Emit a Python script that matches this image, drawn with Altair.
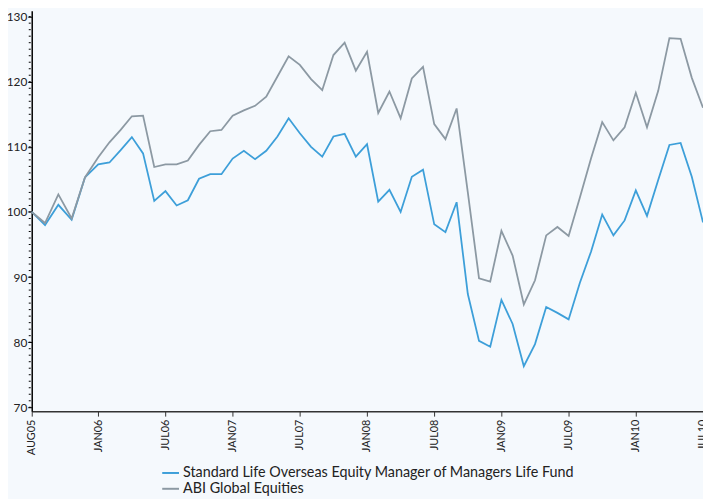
import altair as alt
import pandas as pd

MONTH_INDEX = list(range(60))
STANDARD_LIFE = [100.0, 98.0, 101.1, 98.8, 105.3, 107.3, 107.6, 109.5, 111.5, 109.0,
                 101.7, 103.2, 101.0, 101.8, 105.1, 105.8, 105.8, 108.2, 109.4, 108.1,
                 109.4, 111.6, 114.4, 112.1, 110.0, 108.5, 111.6, 112.0, 108.5, 110.4,
                 101.6, 103.4, 100.0, 105.4, 106.5, 98.1, 96.9, 101.5, 87.4, 80.2,
                 79.3, 86.5, 82.8, 76.3, 79.7, 85.4, 84.5, 83.5, 89.1, 93.9,
                 99.6, 96.4, 98.7, 103.3, 99.4, 104.9, 110.3, 110.6, 105.4, 98.4]
ABI_GLOBAL = [100.0, 98.3, 102.7, 99.0, 105.3, 108.4, 110.7, 112.6, 114.7, 114.8,
              106.9, 107.3, 107.3, 107.9, 110.3, 112.4, 112.6, 114.8, 115.6, 116.3,
              117.7, 120.8, 123.9, 122.6, 120.4, 118.7, 124.1, 126.0, 121.7, 124.6,
              115.2, 118.5, 114.4, 120.5, 122.3, 113.5, 111.2, 115.9, 103.0, 89.8,
              89.3, 97.1, 93.3, 85.8, 89.5, 96.4, 97.7, 96.3, 102.2, 108.2,
              113.8, 111.0, 113.0, 118.3, 113.0, 118.6, 126.7, 126.6, 120.6, 116.0]
SERIES = ["Standard Life Overseas Equity Manager of Managers Life Fund", "ABI Global Equities"]
COLORS = ["#3d9fd9", "#8c99a3"]
TICK_INDEX = [0, 5, 11, 17, 23, 29, 35, 41, 47, 53, 59]
TICK_LABELS = ["AUG05", "JAN06", "JUL06", "JAN07", "JUL07", "JAN08", "JUL08",
               "JAN09", "JUL09", "JAN10", "JUL10"]
Y_MAJOR = [70, 80, 90, 100, 110, 120, 130]
Y_MINOR = list(range(70, 131))

df = pd.DataFrame({
    "i": MONTH_INDEX * 2,
    "v": STANDARD_LIFE + ABI_GLOBAL,
    "s": [SERIES[0]] * len(STANDARD_LIFE) + [SERIES[1]] * len(ABI_GLOBAL),
})
minor = pd.DataFrame({"v": Y_MINOR})

label_expr = ("[" + ",".join(f"'{t}'" for t in TICK_LABELS) + "][indexof(["
              + ",".join(str(t) for t in TICK_INDEX) + "], datum.value)]")

W, H = 679, 405
FONT = "Lato"
yscale = alt.Scale(domain=[69.4, 130.9], nice=False, zero=False)
xscale = alt.Scale(domain=[0, 5, 59], range=[0, 67.3, W], nice=False, zero=False)
yaxis = alt.Axis(values=Y_MAJOR, title=None, grid=False, domainColor="#000000",
                 domainWidth=1.5, tickColor="#000000", tickSize=4, labelPadding=1,
                 labelFontSize=12, labelColor="#222222", labelFont=FONT)

lines = alt.Chart(df).mark_line(strokeWidth=1.8).encode(
    x=alt.X("i:Q", scale=xscale,
            axis=alt.Axis(values=TICK_INDEX, labelExpr=label_expr, labelAngle=-90,
                          title=None, grid=False, domainColor="#333333", domainWidth=1.5,
                          tickColor="#333333", tickSize=5, labelPadding=3,
                          labelFontSize=11, labelColor="#222222", labelFont=FONT)),
    y=alt.Y("v:Q", scale=yscale, axis=yaxis),
    color=alt.Color("s:N", scale=alt.Scale(domain=SERIES, range=COLORS),
                    legend=alt.Legend(title=None, orient="none", legendX=131, legendY=458,
                                      symbolType="stroke", symbolSize=289, symbolStrokeWidth=2,
                                      labelFontSize=14.5, labelFont=FONT, labelColor="#222222",
                                      labelOffset=3, rowPadding=0, labelLimit=600)),
    order="i:Q",
)

minor_ticks = alt.Chart(minor).mark_rule(color="#000000", strokeWidth=1).encode(
    y=alt.Y("v:Q", scale=yscale, axis=yaxis),
    x=alt.value(-3),
    x2=alt.value(-1),
)

chart = alt.layer(lines, minor_ticks).properties(
    width=W, height=H,
    background="#f5f9fd",
    padding={"left": 24, "top": 0, "right": 0, "bottom": 86},
    autosize=alt.AutoSizeParams(type="none"),
).configure_view(stroke=None)

chart.save("out.html", embed_options={"renderer": "svg", "actions": False})
